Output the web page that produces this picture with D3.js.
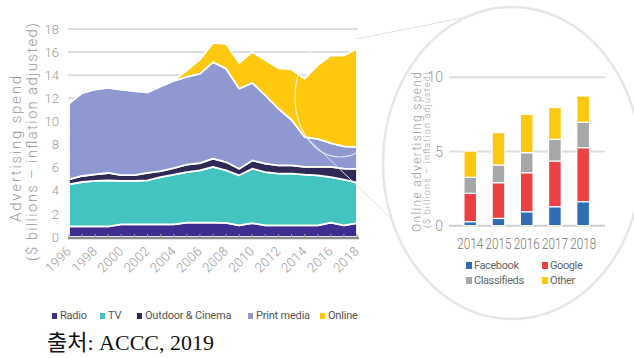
<!DOCTYPE html>
<html>
<head>
<meta charset="utf-8">
<script src="https://cdn.jsdelivr.net/npm/d3@7/dist/d3.min.js"></script>
<style>
  body { margin: 0; background: #fff; }
  svg { display: block; font-family: Roboto, "Noto Sans", sans-serif; }
</style>
</head>
<body>
<svg id="chart" width="634" height="358"></svg>
<script>
// 왼쪽: 매체별 광고비 (십억 달러, 물가 조정)
const years = [1996, 1997, 1998, 1999, 2000, 2001, 2002, 2003, 2004, 2005, 2006, 2007,
               2008, 2009, 2010, 2011, 2012, 2013, 2014, 2015, 2016, 2017, 2018];
const radio   = [0.92, 0.92, 0.92, 0.92, 1.1, 1.1, 1.1, 1.1, 1.1, 1.24, 1.24, 1.24,
                 1.22, 1.0, 1.2, 1.0, 1.0, 1.0, 1.0, 1.0, 1.24, 1.0, 1.2];
const tv      = [3.64, 3.84, 3.93, 3.98, 3.75, 3.75, 3.8, 4.09, 4.29, 4.38, 4.53, 4.82,
                 4.55, 4.34, 4.71, 4.62, 4.48, 4.48, 4.39, 4.34, 3.95, 3.96, 3.5];
const outdoor = [0.43, 0.52, 0.57, 0.64, 0.51, 0.51, 0.64, 0.52, 0.58, 0.64, 0.63, 0.72,
                 0.72, 0.57, 0.72, 0.73, 0.72, 0.72, 0.67, 0.72, 0.87, 0.95, 1.2];
const print   = [6.55, 7.18, 7.36, 7.36, 7.39, 7.27, 6.98, 7.33, 7.53, 7.59, 7.73, 8.36,
                 8.08, 6.93, 6.7, 5.91, 4.9, 3.95, 2.59, 2.44, 2.07, 1.94, 1.89];
const online  = [0, 0, 0, 0, 0, 0, 0, 0, 0.05, 0.55, 1.22, 1.66,
                 2.13, 2.21, 2.67, 3.04, 3.5, 4.35, 5.05, 6.35, 7.57, 7.85, 8.51];
const mediaKeys   = ["Radio", "TV", "Outdoor & Cinema", "Print media", "Online"];
const yTicksLeft  = [0, 2, 4, 6, 8, 10, 12, 14, 16, 18];
const xTickLabels = [1996, 1998, 2000, 2002, 2004, 2006, 2008, 2010, 2012, 2014, 2016, 2018];

// 오른쪽: 온라인 광고비 내역
const barYears   = ["2014", "2015", "2016", "2017", "2018"];
const facebook   = [0.27, 0.49, 0.94, 1.28, 1.62];
const google     = [1.91, 2.41, 2.63, 3.08, 3.64];
const classified = [1.08, 1.19, 1.35, 1.46, 1.71];
const other      = [1.77, 2.18, 2.58, 2.14, 1.77];
const onlineKeys  = ["Facebook", "Google", "Classifieds", "Other"];
const yTicksRight = [0, 5, 10];

const mediaColor = d3.scaleOrdinal(mediaKeys, ["#3e2c8f", "#43c4c1", "#2f2a55", "#8f98d1", "#fec80e"]);
const onlineColor = d3.scaleOrdinal(onlineKeys, ["#2f6cb4", "#ec4043", "#a7a7a7", "#fec80e"]);

const svg = d3.select("#chart");
const grey = "#9a9a9a";

// ---- 왼쪽 차트 ----
const rows = years.map((y, i) => ({
  year: y, "Radio": radio[i], "TV": tv[i], "Outdoor & Cinema": outdoor[i],
  "Print media": print[i], "Online": online[i]
}));
const x = d3.scaleLinear().domain([1996, 2018]).range([69, 357]);
const y = d3.scaleLinear().domain([0, 18]).range([237, 29]);

const left = svg.append("g");
left.append("g")
  .selectAll("line")
  .data(yTicksLeft.slice(1))
  .join("line")
  .attr("x1", 68).attr("x2", 358)
  .attr("y1", d => y(d)).attr("y2", d => y(d))
  .attr("stroke", "#dedede").attr("stroke-width", 2);

left.append("g")
  .selectAll("text")
  .data(yTicksLeft)
  .join("text")
  .attr("x", 59).attr("y", d => y(d)).attr("dy", "0.36em")
  .attr("text-anchor", "end")
  .attr("font-size", 13).attr("font-weight", 300).attr("fill", grey)
  .text(d => d);

const stacked = d3.stack().keys(mediaKeys)(rows);
const area = d3.area()
  .x(d => x(d.data.year))
  .y0(d => y(d[0]))
  .y1(d => y(d[1]));
left.append("g")
  .selectAll("path")
  .data(stacked)
  .join("path")
  .attr("d", area)
  .attr("fill", d => mediaColor(d.key))
  .attr("stroke", "#fff").attr("stroke-width", 1.8)
  .attr("stroke-linejoin", "round");

// 가로축
left.append("line")
  .attr("x1", 68).attr("x2", 359).attr("y1", 238).attr("y2", 238)
  .attr("stroke", "#8a8a8a").attr("stroke-width", 2.5);
left.append("g")
  .selectAll("line")
  .data(years)
  .join("line")
  .attr("x1", d => x(d)).attr("x2", d => x(d))
  .attr("y1", 237).attr("y2", 234)
  .attr("stroke", "#9a9a9a").attr("stroke-width", 1);
left.append("g")
  .selectAll("text")
  .data(xTickLabels)
  .join("text")
  .attr("transform", d => `translate(${x(d) + 3},${252}) rotate(-45)`)
  .attr("text-anchor", "end")
  .attr("font-size", 13).attr("font-weight", 300).attr("fill", grey)
  .attr("letter-spacing", 0.3)
  .text(d => d);

// 세로축 제목
left.append("text")
  .attr("transform", "translate(21,149) rotate(-90)")
  .attr("text-anchor", "middle")
  .attr("font-size", 15).attr("font-weight", 300).attr("fill", grey)
  .attr("textLength", 146).attr("lengthAdjust", "spacing")
  .text("Advertising spend");
left.append("text")
  .attr("transform", "translate(37,142) rotate(-90)")
  .attr("text-anchor", "middle")
  .attr("font-size", 15).attr("font-weight", 300).attr("fill", grey)
  .attr("textLength", 238).attr("lengthAdjust", "spacing")
  .text("($ billions – inflation adjusted)");

// 범례
const legendX = [52, 100, 137, 248, 320];
const lg = left.append("g")
  .selectAll("g")
  .data(mediaKeys)
  .join("g")
  .attr("transform", (d, i) => `translate(${legendX[i]},313)`);
lg.append("rect").attr("width", 5).attr("height", 6).attr("fill", d => mediaColor(d));
lg.append("text").attr("x", 8).attr("y", 6)
  .attr("font-size", 11).attr("fill", "#555").attr("letter-spacing", -0.2)
  .text(d => d);

// ---- 확대 원 ----
const deco = svg.append("g");
deco.append("ellipse")
  .attr("cx", 340).attr("cy", 97).attr("rx", 45).attr("ry", 60)
  .attr("fill", "none").attr("stroke", "#fff").attr("stroke-opacity", 0.75).attr("stroke-width", 1.2);
deco.append("line")
  .attr("x1", 356).attr("y1", 39).attr("x2", 467).attr("y2", 17)
  .attr("stroke", "#e2e2e2").attr("stroke-width", 1);
deco.append("line")
  .attr("x1", 303).attr("y1", 134).attr("x2", 392).attr("y2", 219)
  .attr("stroke", "#e2e2e2").attr("stroke-width", 1);
deco.append("ellipse")
  .attr("cx", 512).attr("cy", 163).attr("rx", 129).attr("ry", 156)
  .attr("fill", "#fff").attr("stroke", "#e6e6e6").attr("stroke-width", 2.5);

// ---- 오른쪽 차트 ----
const barRows = barYears.map((yr, i) => ({
  year: yr, "Facebook": facebook[i], "Google": google[i],
  "Classifieds": classified[i], "Other": other[i]
}));
const bx = d3.scaleBand().domain(barYears).range([448.4, 605]).padding(0.55);
const by = d3.scaleLinear().domain([0, 10]).range([225.7, 77.3]);

const right = svg.append("g");
right.append("g")
  .selectAll("line")
  .data(yTicksRight)
  .join("line")
  .attr("x1", 449).attr("x2", 605)
  .attr("y1", d => by(d)).attr("y2", d => by(d))
  .attr("stroke", d => d === 0 ? "#cfcfcf" : "#dedede").attr("stroke-width", 2);
right.append("g")
  .selectAll("text")
  .data(yTicksRight)
  .join("text")
  .attr("x", 443).attr("y", d => by(d)).attr("dy", "0.36em")
  .attr("text-anchor", "end")
  .attr("font-size", 14).attr("font-weight", 300).attr("fill", grey)
  .text(d => d);

const barStack = d3.stack().keys(onlineKeys)(barRows);
right.append("g")
  .selectAll("g")
  .data(barStack)
  .join("g")
  .attr("fill", d => onlineColor(d.key))
  .selectAll("rect")
  .data(d => d)
  .join("rect")
  .attr("x", d => bx(d.data.year))
  .attr("width", bx.bandwidth())
  .attr("y", d => by(d[1]))
  .attr("height", d => by(d[0]) - by(d[1]))
  .attr("stroke", "#fff").attr("stroke-width", 1.2);

right.append("g")
  .selectAll("text")
  .data(barYears)
  .join("text")
  .attr("x", d => bx(d) + bx.bandwidth() / 2).attr("y", 249)
  .attr("text-anchor", "middle")
  .attr("font-size", 14).attr("font-weight", 300).attr("fill", "#777")
  .attr("textLength", 26).attr("lengthAdjust", "spacingAndGlyphs")
  .text(d => d);

right.append("text")
  .attr("transform", "translate(421,152) rotate(-90)")
  .attr("text-anchor", "middle")
  .attr("font-size", 12).attr("font-weight", 300).attr("fill", grey)
  .attr("textLength", 160).attr("lengthAdjust", "spacing")
  .text("Online advertising spend");
right.append("text")
  .attr("transform", "translate(430,150) rotate(-90)")
  .attr("text-anchor", "middle")
  .attr("font-size", 9).attr("font-weight", 300).attr("fill", grey)
  .attr("textLength", 156).attr("lengthAdjust", "spacing")
  .text("($ billions – inflation adjusted)");

const rlPos = [[466, 262], [542, 262], [466, 277], [542, 277]];
const rl = right.append("g")
  .selectAll("g")
  .data(onlineKeys)
  .join("g")
  .attr("transform", (d, i) => `translate(${rlPos[i][0]},${rlPos[i][1]})`);
rl.append("rect").attr("width", 6).attr("height", 7).attr("fill", d => onlineColor(d));
rl.append("text").attr("x", 8).attr("y", 7)
  .attr("font-size", 11).attr("fill", "#666").attr("letter-spacing", -0.4)
  .text(d => d);

// 출처
svg.append("text")
  .attr("x", 47).attr("y", 350)
  .attr("font-family", "'Liberation Serif', 'Noto Sans CJK KR', serif")
  .attr("font-size", 22).attr("fill", "#111")
  .text("출처: ACCC, 2019");
</script>
</body>
</html>
